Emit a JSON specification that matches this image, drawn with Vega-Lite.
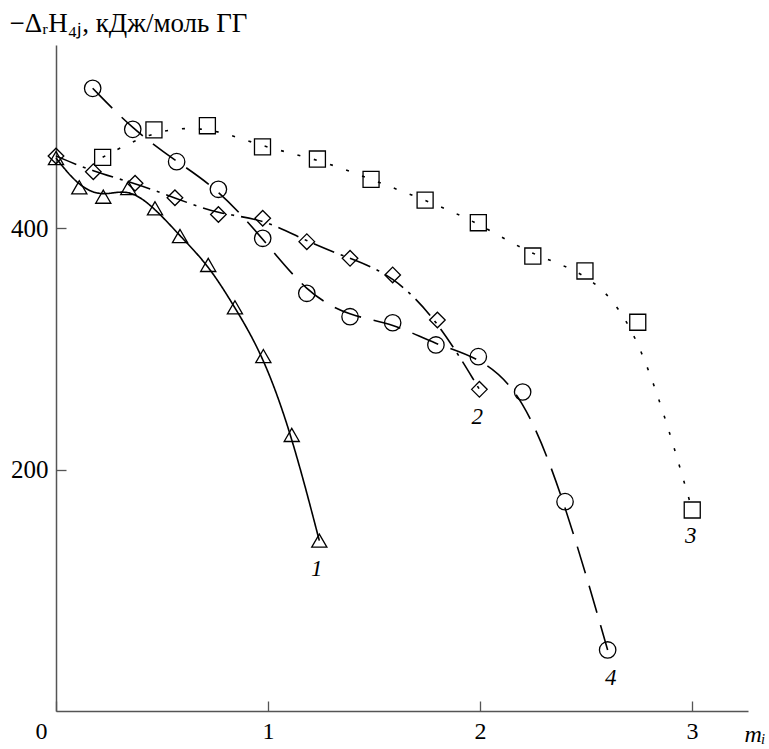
{
  "$schema": "https://vega.github.io/schema/vega-lite/v6.json",
  "width": 692,
  "height": 666,
  "autosize": {"type": "none"},
  "padding": {"left": 56, "top": 45, "right": 21, "bottom": 38},
  "background": "white",
  "config": {"view": {"stroke": null}, "font": "Liberation Serif"},
  "datasets": {
    "pts": [
      {"s": "1", "m": 0.0, "h": 458.3},
      {"s": "1", "m": 0.110, "h": 434.1},
      {"s": "1", "m": 0.223, "h": 426.3},
      {"s": "1", "m": 0.341, "h": 433.5},
      {"s": "1", "m": 0.467, "h": 416.7},
      {"s": "1", "m": 0.585, "h": 393.7},
      {"s": "1", "m": 0.718, "h": 369.7},
      {"s": "1", "m": 0.844, "h": 334.6},
      {"s": "1", "m": 0.978, "h": 294.2},
      {"s": "1", "m": 1.112, "h": 228.8},
      {"s": "1", "m": 1.242, "h": 141.2},
      {"s": "2", "m": 0.0, "h": 460.0},
      {"s": "2", "m": 0.176, "h": 447.0},
      {"s": "2", "m": 0.373, "h": 437.4},
      {"s": "2", "m": 0.561, "h": 425.4},
      {"s": "2", "m": 0.766, "h": 411.5},
      {"s": "2", "m": 0.975, "h": 408.4},
      {"s": "2", "m": 1.183, "h": 389.0},
      {"s": "2", "m": 1.387, "h": 375.2},
      {"s": "2", "m": 1.588, "h": 361.4},
      {"s": "2", "m": 1.799, "h": 324.1},
      {"s": "2", "m": 1.997, "h": 266.6},
      {"s": "3", "m": 0.220, "h": 458.9},
      {"s": "3", "m": 0.462, "h": 481.6},
      {"s": "3", "m": 0.714, "h": 485.1},
      {"s": "3", "m": 0.974, "h": 467.5},
      {"s": "3", "m": 1.233, "h": 457.5},
      {"s": "3", "m": 1.486, "h": 440.7},
      {"s": "3", "m": 1.741, "h": 423.5},
      {"s": "3", "m": 1.992, "h": 404.7},
      {"s": "3", "m": 2.249, "h": 377.1},
      {"s": "3", "m": 2.495, "h": 364.7},
      {"s": "3", "m": 2.744, "h": 322.2},
      {"s": "3", "m": 3.001, "h": 166.6},
      {"s": "4", "m": 0.173, "h": 516.1},
      {"s": "4", "m": 0.362, "h": 482.1},
      {"s": "4", "m": 0.569, "h": 455.3},
      {"s": "4", "m": 0.766, "h": 432.4},
      {"s": "4", "m": 0.975, "h": 391.8},
      {"s": "4", "m": 1.183, "h": 346.2},
      {"s": "4", "m": 1.387, "h": 326.8},
      {"s": "4", "m": 1.588, "h": 321.8},
      {"s": "4", "m": 1.792, "h": 303.4},
      {"s": "4", "m": 1.992, "h": 293.7},
      {"s": "4", "m": 2.201, "h": 264.4},
      {"s": "4", "m": 2.401, "h": 173.5},
      {"s": "4", "m": 2.602, "h": 50.6}
    ],
    "labels": [
      {"s": "1", "m": 1.230, "h": 118.0},
      {"s": "2", "m": 1.987, "h": 243.9},
      {"s": "3", "m": 2.994, "h": 145.0},
      {"s": "4", "m": 2.617, "h": 27.1}
    ]
  },
  "layer": [
    {
      "data": {"name": "pts"},
      "mark": {"type": "line", "interpolate": "basis", "color": "black", "strokeWidth": 1.6},
      "encoding": {
        "x": {
          "field": "m", "type": "quantitative",
          "scale": {"domain": [0, 3.264], "nice": false, "zero": false},
          "axis": {
            "values": [0, 1, 2, 3],
            "grid": false,
            "title": "mᵢ",
            "titleFont": "Liberation Serif",
            "titleFontStyle": "italic",
            "titleFontWeight": "normal",
            "titleFontSize": 24,
            "titleColor": "black",
            "titleAlign": "left",
            "titleBaseline": "alphabetic",
            "titleX": 688,
            "titleY": 30,
            "domainColor": "#555555",
            "domainWidth": 1.5,
            "tickColor": "#555555",
            "tickWidth": 1.3,
            "tickSize": -10,
            "labelPadding": 18,
            "labelFont": "Liberation Serif",
            "labelFontSize": 24,
            "labelColor": "black",
            "labelOffset": {"condition": {"test": "datum.value == 0", "value": -15}, "value": 0},
            "labelFlush": false,
            "format": "d"
          }
        },
        "y": {
          "field": "h", "type": "quantitative",
          "scale": {"domain": [0, 552], "nice": false},
          "axis": {
            "values": [200, 400],
            "grid": false,
            "title": "−ΔᵣH₄ⱼ, кДж/моль ГГ",
            "titleFont": "Liberation Serif",
            "titleFontWeight": "normal",
            "titleFontSize": 27,
            "titleColor": "black",
            "titleAngle": 0,
            "titleAlign": "left",
            "titleBaseline": "alphabetic",
            "titleX": -47,
            "titleY": -14,
            "domainColor": "#555555",
            "domainWidth": 1.5,
            "tickColor": "#555555",
            "tickWidth": 1.3,
            "tickSize": -10,
            "labelPadding": 18,
            "labelFont": "Liberation Serif",
            "labelFontSize": 25,
            "labelColor": "black",
            "format": "d"
          }
        },
        "detail": {"field": "s"},
        "strokeDash": {
          "field": "s", "type": "nominal",
          "scale": {"domain": ["1", "2", "3", "4"], "range": [[1, 0], [22, 7, 3, 7], [3, 14], [28, 13]]},
          "legend": null
        }
      }
    },
    {
      "data": {"name": "pts"},
      "mark": {"type": "point", "filled": false, "color": "black", "strokeWidth": 1.3, "opacity": 1},
      "encoding": {
        "x": {"field": "m", "type": "quantitative"},
        "y": {"field": "h", "type": "quantitative"},
        "shape": {
          "field": "s", "type": "nominal",
          "scale": {"domain": ["1", "2", "3", "4"], "range": ["triangle-up", "diamond", "square", "circle"]},
          "legend": null
        },
        "size": {
          "field": "s", "type": "nominal",
          "scale": {"domain": ["1", "2", "3", "4"], "range": [230, 270, 160, 150]},
          "legend": null
        }
      }
    },
    {
      "data": {"name": "labels"},
      "mark": {"type": "text", "font": "Liberation Serif", "fontStyle": "italic", "fontSize": 23, "color": "black", "align": "center", "baseline": "middle"},
      "encoding": {
        "x": {"field": "m", "type": "quantitative"},
        "y": {"field": "h", "type": "quantitative"},
        "text": {"field": "s"}
      }
    }
  ]
}
